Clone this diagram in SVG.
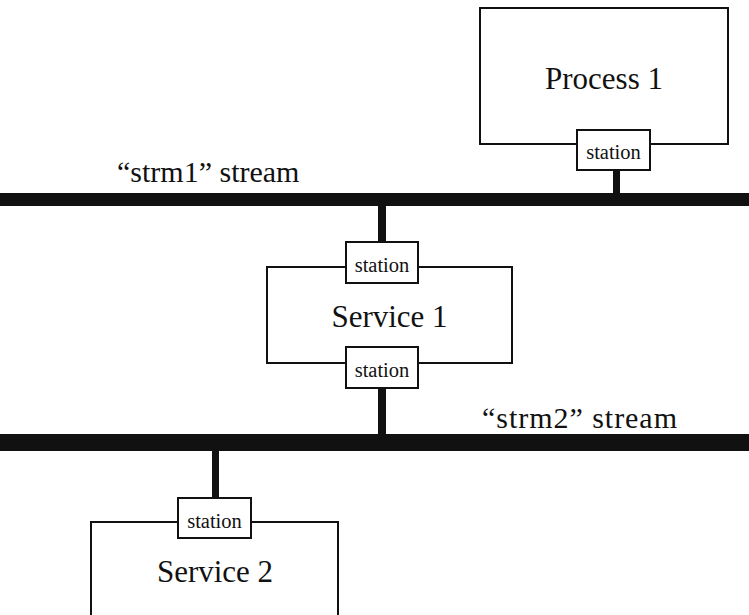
<svg xmlns="http://www.w3.org/2000/svg" width="749" height="615" viewBox="0 0 749 615">
<style>
.box{fill:#fff;stroke:#111;stroke-width:2}
.st{fill:#fff;stroke:#111;stroke-width:2}
.bar{fill:#111}
.conn{fill:#111}
text{font-family:'Liberation Serif','DejaVu Serif',serif;fill:#111}
.big{font-size:31px;text-anchor:middle}
.lbl{font-size:30px}
.sm{font-size:20.5px;text-anchor:middle}
</style>
<rect width="749" height="615" fill="#fff"/>
<g id="streams">
<rect id="strm1" class="bar" x="0" y="193" width="749" height="13"/>
<text class="lbl" x="117" y="182" font-family="Liberation Serif">“strm1” stream</text>
<rect id="strm2" class="bar" x="0" y="434" width="749" height="17"/>
<text class="lbl" x="482" y="428" textLength="195" font-family="Liberation Serif">“strm2” stream</text>
</g>
<g id="connectors">
<rect class="conn" x="613" y="170" width="7" height="24"/>
<rect class="conn" x="378" y="205" width="8" height="38"/>
<rect class="conn" x="378" y="387" width="8" height="48"/>
<rect class="conn" x="212" y="450" width="7" height="49"/>
</g>
<g id="process1">
<rect class="box" x="480" y="8" width="248" height="136"/>
<text class="big" x="604" y="89" font-family="Liberation Serif">Process 1</text>
<rect class="st" x="577" y="130" width="73" height="40"/>
<text class="sm" x="613.5" y="159" font-family="Liberation Serif">station</text>
</g>
<g id="service1">
<rect class="box" x="267" y="267" width="245" height="96"/>
<text class="big" x="389.5" y="327" font-family="Liberation Serif">Service 1</text>
<rect class="st" x="346" y="242" width="72" height="41"/>
<text class="sm" x="382" y="272" font-family="Liberation Serif">station</text>
<rect class="st" x="346" y="347" width="72" height="41"/>
<text class="sm" x="382" y="377" font-family="Liberation Serif">station</text>
</g>
<g id="service2">
<rect class="box" x="91" y="522" width="247" height="110"/>
<text class="big" x="215" y="582" font-family="Liberation Serif">Service 2</text>
<rect class="st" x="178" y="498" width="73" height="40"/>
<text class="sm" x="214.5" y="528" font-family="Liberation Serif">station</text>
</g>
</svg>
